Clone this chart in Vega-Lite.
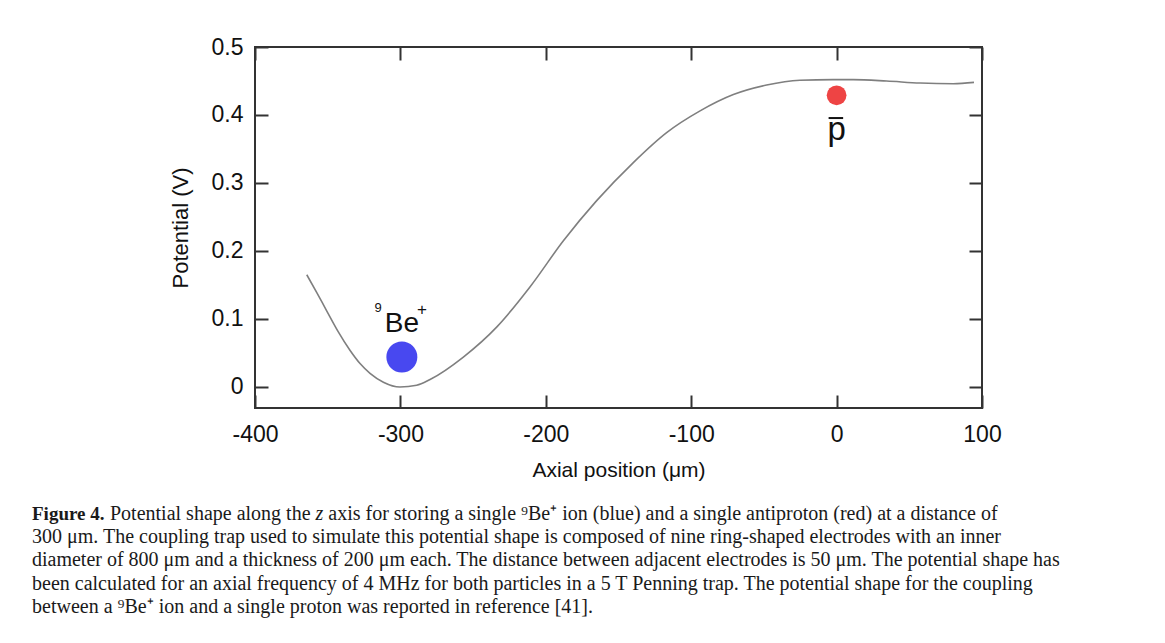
{
  "$schema": "https://vega.github.io/schema/vega-lite/v6.json",
  "background": "white",
  "padding": {"left": 32, "top": 35, "right": 10, "bottom": 10},
  "spacing": 21,
  "config": {"font": "Liberation Sans", "view": {"stroke": null}},
  "datasets": {
    "curve": [
      {"x": -364.4, "v": 0.165}, {"x": -357.6, "v": 0.139}, {"x": -350.7, "v": 0.112},
      {"x": -342.7, "v": 0.081}, {"x": -334.7, "v": 0.054}, {"x": -327.6, "v": 0.034},
      {"x": -320.9, "v": 0.020}, {"x": -311.7, "v": 0.007}, {"x": -300.3, "v": 0.000},
      {"x": -288.8, "v": 0.0025}, {"x": -279.6, "v": 0.011}, {"x": -256.7, "v": 0.044},
      {"x": -233.8, "v": 0.088}, {"x": -210.9, "v": 0.147}, {"x": -187.9, "v": 0.215},
      {"x": -165.0, "v": 0.274}, {"x": -139.8, "v": 0.330}, {"x": -116.9, "v": 0.374},
      {"x": -93.9, "v": 0.406}, {"x": -71.0, "v": 0.430}, {"x": -48.1, "v": 0.444},
      {"x": -25.2, "v": 0.451}, {"x": -2.3, "v": 0.452}, {"x": 11.4, "v": 0.452},
      {"x": 34.4, "v": 0.450}, {"x": 57.4, "v": 0.447}, {"x": 80.3, "v": 0.446},
      {"x": 94.5, "v": 0.448}
    ],
    "particles": [
      {"particle": "Be", "x": -299, "v": 0.044},
      {"particle": "pbar", "x": 0, "v": 0.429}
    ],
    "labels": [
      {"kind": "big", "x": -299, "v": 0.0806, "t": "Be"},
      {"kind": "sup", "x": -315.4, "v": 0.1095, "t": "9"},
      {"kind": "plus", "x": -285.1, "v": 0.1125, "t": "+"},
      {"kind": "p", "x": 0, "v": 0.363, "t": "p"}
    ],
    "bar": [{"x": -5.5, "x2": 4.5, "v": 0.3955}],
    "caption": [
      {"line": 1, "part": "b", "text": "Figure 4."},
      {"line": 1, "part": "f1", "text": "Potential shape along the"},
      {"line": 1, "part": "z", "text": "z"},
      {"line": 1, "part": "f2", "text": "axis for storing a single ⁹Be⁺ ion (blue) and a single antiproton (red) at a distance of"},
      {"line": 2, "part": "r", "text": "300 μm. The coupling trap used to simulate this potential shape is composed of nine ring-shaped electrodes with an inner"},
      {"line": 3, "part": "r", "text": "diameter of 800 μm and a thickness of 200 μm each. The distance between adjacent electrodes is 50 μm. The potential shape has"},
      {"line": 4, "part": "r", "text": "been calculated for an axial frequency of 4 MHz for both particles in a 5 T Penning trap. The potential shape for the coupling"},
      {"line": 5, "part": "r", "text": "between a ⁹Be⁺ ion and a single proton was reported in reference [41]."}
    ]
  },
  "vconcat": [
    {
      "width": 727,
      "height": 361,
      "view": {"stroke": "#333333", "strokeWidth": 2},
      "resolve": {"axis": {"x": "independent", "y": "independent"}},
      "layer": [
        {
          "data": {"name": "curve"},
          "mark": {"type": "line", "color": "#7f7f7f", "strokeWidth": 1.6, "interpolate": "monotone"},
          "encoding": {
            "x": {
              "field": "x", "type": "quantitative",
              "scale": {"domain": [-400, 100], "nice": false, "zero": false},
              "axis": {
                "orient": "bottom", "values": [-400, -300, -200, -100, 0, 100],
                "tickSize": -13, "tickWidth": 2, "tickColor": "#333333", "domain": false, "grid": false,
                "labelFontSize": 23, "labelColor": "#111111", "labelPadding": 28, "labelFlush": false, "labelOverlap": false,
                "labelExpr": "datum.value < 0 ? '-' + format(-datum.value, 'd') : format(datum.value, 'd')",
                "title": "Axial position (μm)", "titleFontSize": 21, "titleFontWeight": "normal", "titleColor": "#111111", "titlePadding": 13
              }
            },
            "y": {
              "field": "v", "type": "quantitative",
              "scale": {"domain": [-0.031, 0.5], "nice": false, "zero": false},
              "axis": {
                "orient": "left", "values": [0, 0.1, 0.2, 0.3, 0.4, 0.5],
                "tickSize": -13, "tickWidth": 2, "tickColor": "#333333", "domain": false, "grid": false,
                "labelFontSize": 23, "labelColor": "#111111", "labelPadding": 25, "labelFlush": false, "labelOverlap": false,
                "labelExpr": "datum.value == 0 ? '0' : format(datum.value, '.1f')",
                "title": "Potential (V)", "titleFontSize": 22, "titleFontWeight": "normal", "titleColor": "#111111", "titlePadding": 19
              }
            }
          }
        },
        {
          "data": {"name": "particles"},
          "mark": {"type": "point", "filled": true, "opacity": 1, "strokeWidth": 0},
          "encoding": {
            "x": {
              "field": "x", "type": "quantitative",
              "axis": {"orient": "top", "values": [-400, -300, -200, -100, 0, 100], "tickSize": -13, "tickWidth": 2, "tickColor": "#333333", "domain": false, "grid": false, "labels": false, "title": null}
            },
            "y": {
              "field": "v", "type": "quantitative",
              "axis": {"orient": "right", "values": [0, 0.1, 0.2, 0.3, 0.4, 0.5], "tickSize": -13, "tickWidth": 2, "tickColor": "#333333", "domain": false, "grid": false, "labels": false, "title": null}
            },
            "color": {"field": "particle", "type": "nominal", "scale": {"domain": ["Be", "pbar"], "range": ["#4848f0", "#ee4444"]}, "legend": null},
            "size": {"field": "particle", "type": "ordinal", "scale": {"domain": ["Be", "pbar"], "range": [960, 390]}, "legend": null}
          }
        },
        {
          "data": {"name": "labels"},
          "transform": [{"filter": "datum.kind == 'big'"}],
          "mark": {"type": "text", "fontSize": 28, "align": "center", "baseline": "alphabetic", "color": "#111111"},
          "encoding": {
            "x": {"field": "x", "type": "quantitative", "axis": null},
            "y": {"field": "v", "type": "quantitative", "axis": null},
            "text": {"field": "t"}
          }
        },
        {
          "data": {"name": "labels"},
          "transform": [{"filter": "datum.kind == 'sup'"}],
          "mark": {"type": "text", "fontSize": 13, "align": "center", "baseline": "alphabetic", "color": "#111111"},
          "encoding": {
            "x": {"field": "x", "type": "quantitative", "axis": null},
            "y": {"field": "v", "type": "quantitative", "axis": null},
            "text": {"field": "t"}
          }
        },
        {
          "data": {"name": "labels"},
          "transform": [{"filter": "datum.kind == 'plus'"}],
          "mark": {"type": "text", "fontSize": 17, "align": "center", "baseline": "middle", "color": "#111111"},
          "encoding": {
            "x": {"field": "x", "type": "quantitative", "axis": null},
            "y": {"field": "v", "type": "quantitative", "axis": null},
            "text": {"field": "t"}
          }
        },
        {
          "data": {"name": "labels"},
          "transform": [{"filter": "datum.kind == 'p'"}],
          "mark": {"type": "text", "fontSize": 33, "align": "center", "baseline": "alphabetic", "color": "#111111"},
          "encoding": {
            "x": {"field": "x", "type": "quantitative", "axis": null},
            "y": {"field": "v", "type": "quantitative", "axis": null},
            "text": {"field": "t"}
          }
        },
        {
          "data": {"name": "bar"},
          "mark": {"type": "rule", "color": "#111111", "strokeWidth": 2},
          "encoding": {
            "x": {"field": "x", "type": "quantitative", "axis": null},
            "x2": {"field": "x2"},
            "y": {"field": "v", "type": "quantitative", "axis": null}
          }
        }
      ]
    },
    {
      "width": 1100,
      "height": {"step": 23.3},
      "view": {"stroke": null},
      "data": {"name": "caption"},
      "layer": [
        {
          "transform": [{"filter": "datum.part == 'b'"}],
          "mark": {"type": "text", "font": "Liberation Serif", "fontSize": 19, "fontWeight": "bold", "align": "left", "baseline": "middle", "dx": -223, "color": "#1a1a1a"},
          "encoding": {
            "x": {"value": 0},
            "y": {"field": "line", "type": "ordinal", "axis": null},
            "text": {"field": "text"}
          }
        },
        {
          "transform": [{"filter": "datum.part == 'f1'"}],
          "mark": {"type": "text", "font": "Liberation Serif", "fontSize": 20, "align": "left", "baseline": "middle", "dx": -145, "color": "#1a1a1a"},
          "encoding": {
            "x": {"value": 0},
            "y": {"field": "line", "type": "ordinal", "axis": null},
            "text": {"field": "text"}
          }
        },
        {
          "transform": [{"filter": "datum.part == 'z'"}],
          "mark": {"type": "text", "font": "Liberation Serif", "fontSize": 20, "fontStyle": "italic", "align": "left", "baseline": "middle", "dx": 60.5, "color": "#1a1a1a"},
          "encoding": {
            "x": {"value": 0},
            "y": {"field": "line", "type": "ordinal", "axis": null},
            "text": {"field": "text"}
          }
        },
        {
          "transform": [{"filter": "datum.part == 'f2'"}],
          "mark": {"type": "text", "font": "Liberation Serif", "fontSize": 20, "align": "left", "baseline": "middle", "dx": 73.3, "color": "#1a1a1a"},
          "encoding": {
            "x": {"value": 0},
            "y": {"field": "line", "type": "ordinal", "axis": null},
            "text": {"field": "text"}
          }
        },
        {
          "transform": [{"filter": "datum.part == 'r'"}],
          "mark": {"type": "text", "font": "Liberation Serif", "fontSize": 20, "align": "left", "baseline": "middle", "dx": -223, "color": "#1a1a1a"},
          "encoding": {
            "x": {"value": 0},
            "y": {"field": "line", "type": "ordinal", "axis": null},
            "text": {"field": "text"}
          }
        }
      ]
    }
  ]
}
